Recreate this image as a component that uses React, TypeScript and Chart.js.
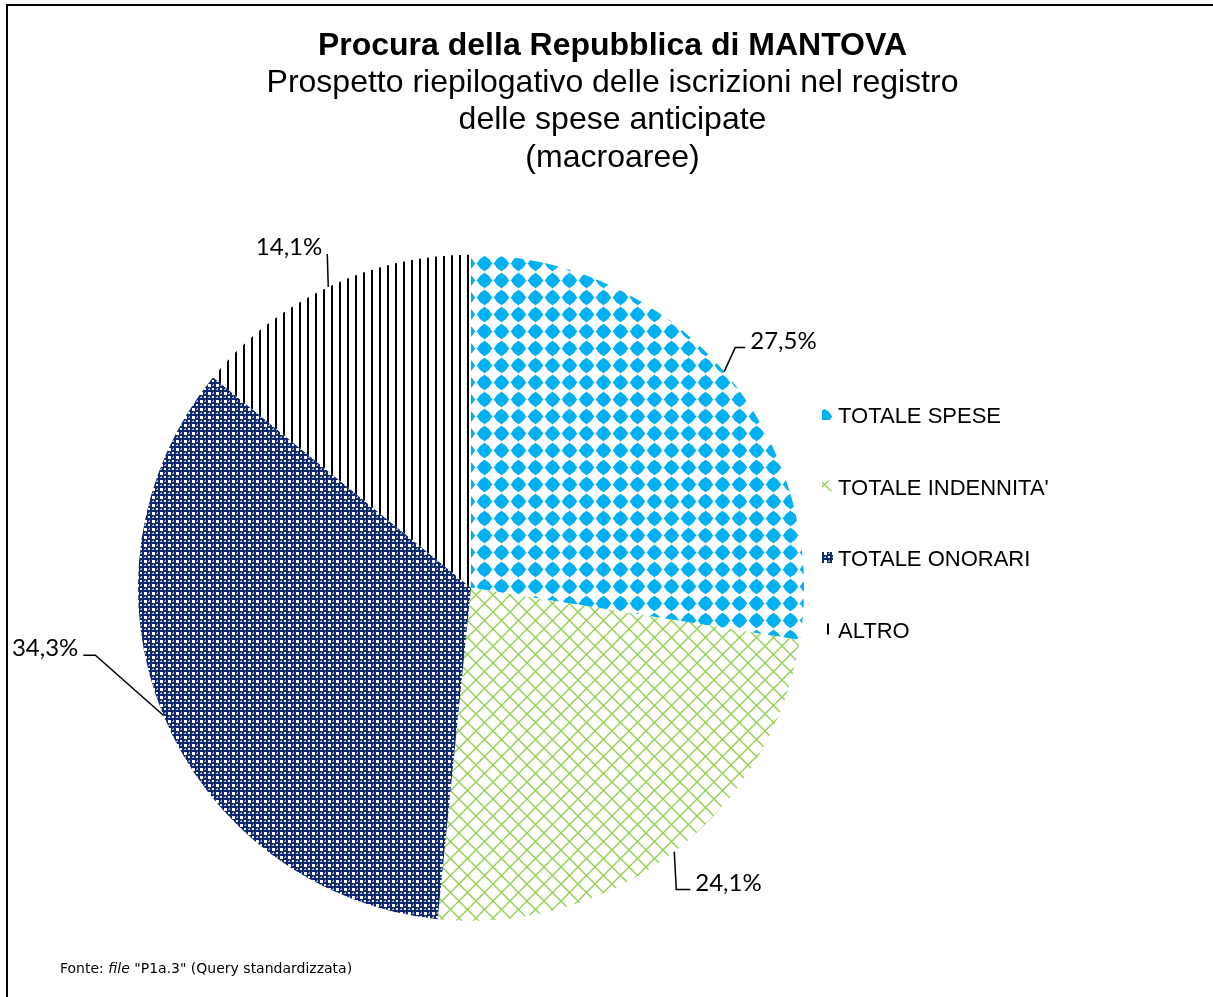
import React, { useEffect, useRef } from "react";
import { Chart, ArcElement, PieController, Title, SubTitle } from "chart.js";

Chart.register(ArcElement, PieController, Title, SubTitle);

// ---- data ----
const categories = ["TOTALE SPESE", "TOTALE INDENNITA'", "TOTALE ONORARI", "ALTRO"];
const shares = [27.5, 24.1, 34.3, 14.1];
const titleText = "Procura della Repubblica di MANTOVA";
const subtitleLines = [
  "Prospetto riepilogativo delle iscrizioni nel registro",
  "delle spese anticipate",
  "(macroaree)",
];
const sourceParts = [
  { text: "Fonte: ", italic: false },
  { text: "file", italic: true },
  { text: ' "P1a.3" (Query standardizzata)', italic: false },
];

// ---- layout / style ----
const W = 1213;
const H = 997;
const pieArea = { left: 0, right: 942 };
const leaders = [
  { dx: 11, dy: -24, run: 10, side: 1 },
  { dx: 2, dy: 38, run: 14, side: 1 },
  { dx: -68, dy: -60, run: -12, side: -1 },
  { dx: -1, dy: -33, run: 0, side: -1 },
];
const legendLayout = { x: 822, firstBaseline: 423, step: 71.5, swatch: 11, textX: 838 };

const fmt = (v: number) => v.toFixed(1).replace(".", ",") + "%";

function makeTile(size: number, draw: (c: CanvasRenderingContext2D) => void): CanvasPattern | string {
  const cv = document.createElement("canvas");
  cv.width = size;
  cv.height = size;
  const c = cv.getContext("2d")!;
  c.fillStyle = "#ffffff";
  c.fillRect(0, 0, size, size);
  draw(c);
  const ctx = document.createElement("canvas").getContext("2d")!;
  return ctx.createPattern(cv, "repeat") || "#888";
}

function bluePattern() {
  return makeTile(17, (c) => {
    c.fillStyle = "#00B0F0";
    c.beginPath();
    c.moveTo(8.5, 0.5);
    c.lineTo(16.5, 8.5);
    c.lineTo(8.5, 16.5);
    c.lineTo(0.5, 8.5);
    c.closePath();
    c.fill();
    c.beginPath();
    c.arc(8.5, 8.5, 6.4, 0, Math.PI * 2);
    c.fill();
  });
}

function greenPattern() {
  return makeTile(17, (c) => {
    c.strokeStyle = "#92D050";
    c.lineWidth = 1.4;
    c.beginPath();
    c.moveTo(-2, -2);
    c.lineTo(19, 19);
    c.moveTo(19, -2);
    c.lineTo(-2, 19);
    c.stroke();
  });
}

function navyPattern() {
  return makeTile(8, (c) => {
    c.fillStyle = "#0E2A6E";
    c.fillRect(0, 0, 8, 8);
    c.fillStyle = "#ffffff";
    c.fillRect(0, 0, 3, 3);
    c.fillRect(4, 4, 2, 2);
    c.fillStyle = "#A8B2CC";
    c.fillRect(5, 0, 1, 1);
    c.fillRect(0, 5, 1, 1);
    c.fillRect(4, 1, 2, 1);
    c.fillRect(1, 4, 1, 2);
  });
}

function stripePattern() {
  return makeTile(8, (c) => {
    c.fillStyle = "#000000";
    c.fillRect(3, 0, 2, 8);
  });
}

const decorPlugin = {
  id: "decor",
  afterLayout(chart: any) {
    const a = chart.chartArea;
    a.left = pieArea.left;
    a.right = pieArea.right;
    a.width = a.right - a.left;
  },
  beforeDraw(chart: any) {
    const ctx = chart.ctx;
    ctx.save();
    ctx.fillStyle = "#ffffff";
    ctx.fillRect(0, 0, W, H);
    ctx.restore();
  },
  afterDraw(chart: any) {
    const ctx: CanvasRenderingContext2D = chart.ctx;
    const meta = chart.getDatasetMeta(0);
    const ds = chart.data.datasets[0];
    ctx.save();
    // leader lines + percentage labels
    ctx.strokeStyle = "#000000";
    ctx.lineWidth = 1.5;
    ctx.fillStyle = "#000000";
    ctx.font = "24px Lato, 'Open Sans', sans-serif";
    ctx.textBaseline = "alphabetic";
    meta.data.forEach((arc: any, i: number) => {
      const { x, y, startAngle, endAngle, outerRadius } = arc.getProps(
        ["x", "y", "startAngle", "endAngle", "outerRadius"],
        true
      );
      const mid = (startAngle + endAngle) / 2;
      const ex = x + outerRadius * Math.cos(mid);
      const ey = y + outerRadius * Math.sin(mid);
      const L = leaders[i];
      const bx = ex + L.dx;
      const by = ey + L.dy;
      const cx = bx + L.run;
      ctx.beginPath();
      ctx.moveTo(ex, ey);
      ctx.lineTo(bx, by);
      ctx.lineTo(cx, by);
      ctx.stroke();
      ctx.textAlign = L.side > 0 ? "left" : "right";
      ctx.fillText(fmt(ds.data[i]), cx + L.side * 5, by + 1);
    });

    // legend
    ctx.font = "22px 'Liberation Sans', Arial, sans-serif";
    ctx.textAlign = "left";
    chart.data.labels.forEach((lab: string, i: number) => {
      const base = legendLayout.firstBaseline + i * legendLayout.step;
      ctx.fillStyle = ds.backgroundColor[i];
      ctx.fillRect(legendLayout.x, base - 14, legendLayout.swatch, legendLayout.swatch);
      ctx.fillStyle = "#000000";
      ctx.fillText(lab, legendLayout.textX, base);
    });

    // source note
    let sx = 60;
    const sy = 973;
    sourceParts.forEach((p) => {
      ctx.font = (p.italic ? "italic " : "") + "14px 'DejaVu Sans', Verdana, sans-serif";
      ctx.fillText(p.text, sx, sy);
      sx += ctx.measureText(p.text).width;
    });

    // frame
    ctx.fillStyle = "#000000";
    ctx.fillRect(6, 4, 2, H - 4);
    ctx.fillRect(6, 4, W - 6, 2);
    ctx.restore();
  },
};

export default function App() {
  const ref = useRef<HTMLCanvasElement | null>(null);
  useEffect(() => {
    if (!ref.current) return;
    const colors = [bluePattern(), greenPattern(), navyPattern(), stripePattern()];
    const chart = new Chart(ref.current, {
      type: "pie",
      data: {
        labels: categories,
        datasets: [
          {
            data: shares,
            backgroundColor: colors as any,
            borderWidth: 0,
          },
        ],
      },
      options: {
        responsive: false,
        animation: false,
        devicePixelRatio: 1,
        radius: 333,
        layout: { padding: { left: 12, right: 0, top: 0, bottom: 0 } },
        plugins: {
          legend: { display: false },
          tooltip: { enabled: false },
          title: {
            display: true,
            text: titleText,
            color: "#000000",
            font: { family: "'Liberation Sans', Arial, sans-serif", size: 32, weight: "bold", lineHeight: 1.2 },
            padding: { top: 27, bottom: 0 },
          },
          subtitle: {
            display: true,
            text: subtitleLines,
            color: "#000000",
            font: { family: "'Liberation Sans', Arial, sans-serif", size: 32, weight: "normal", lineHeight: 1.17 },
            padding: { top: -1, bottom: 2 },
          },
        },
      } as any,
      plugins: [decorPlugin],
    });
    return () => chart.destroy();
  }, []);
  return (
    <div style={{ position: "absolute", left: 0, top: 0, width: W, height: H }}>
      <canvas ref={ref} width={W} height={H} style={{ display: "block", width: W, height: H }} />
    </div>
  );
}
